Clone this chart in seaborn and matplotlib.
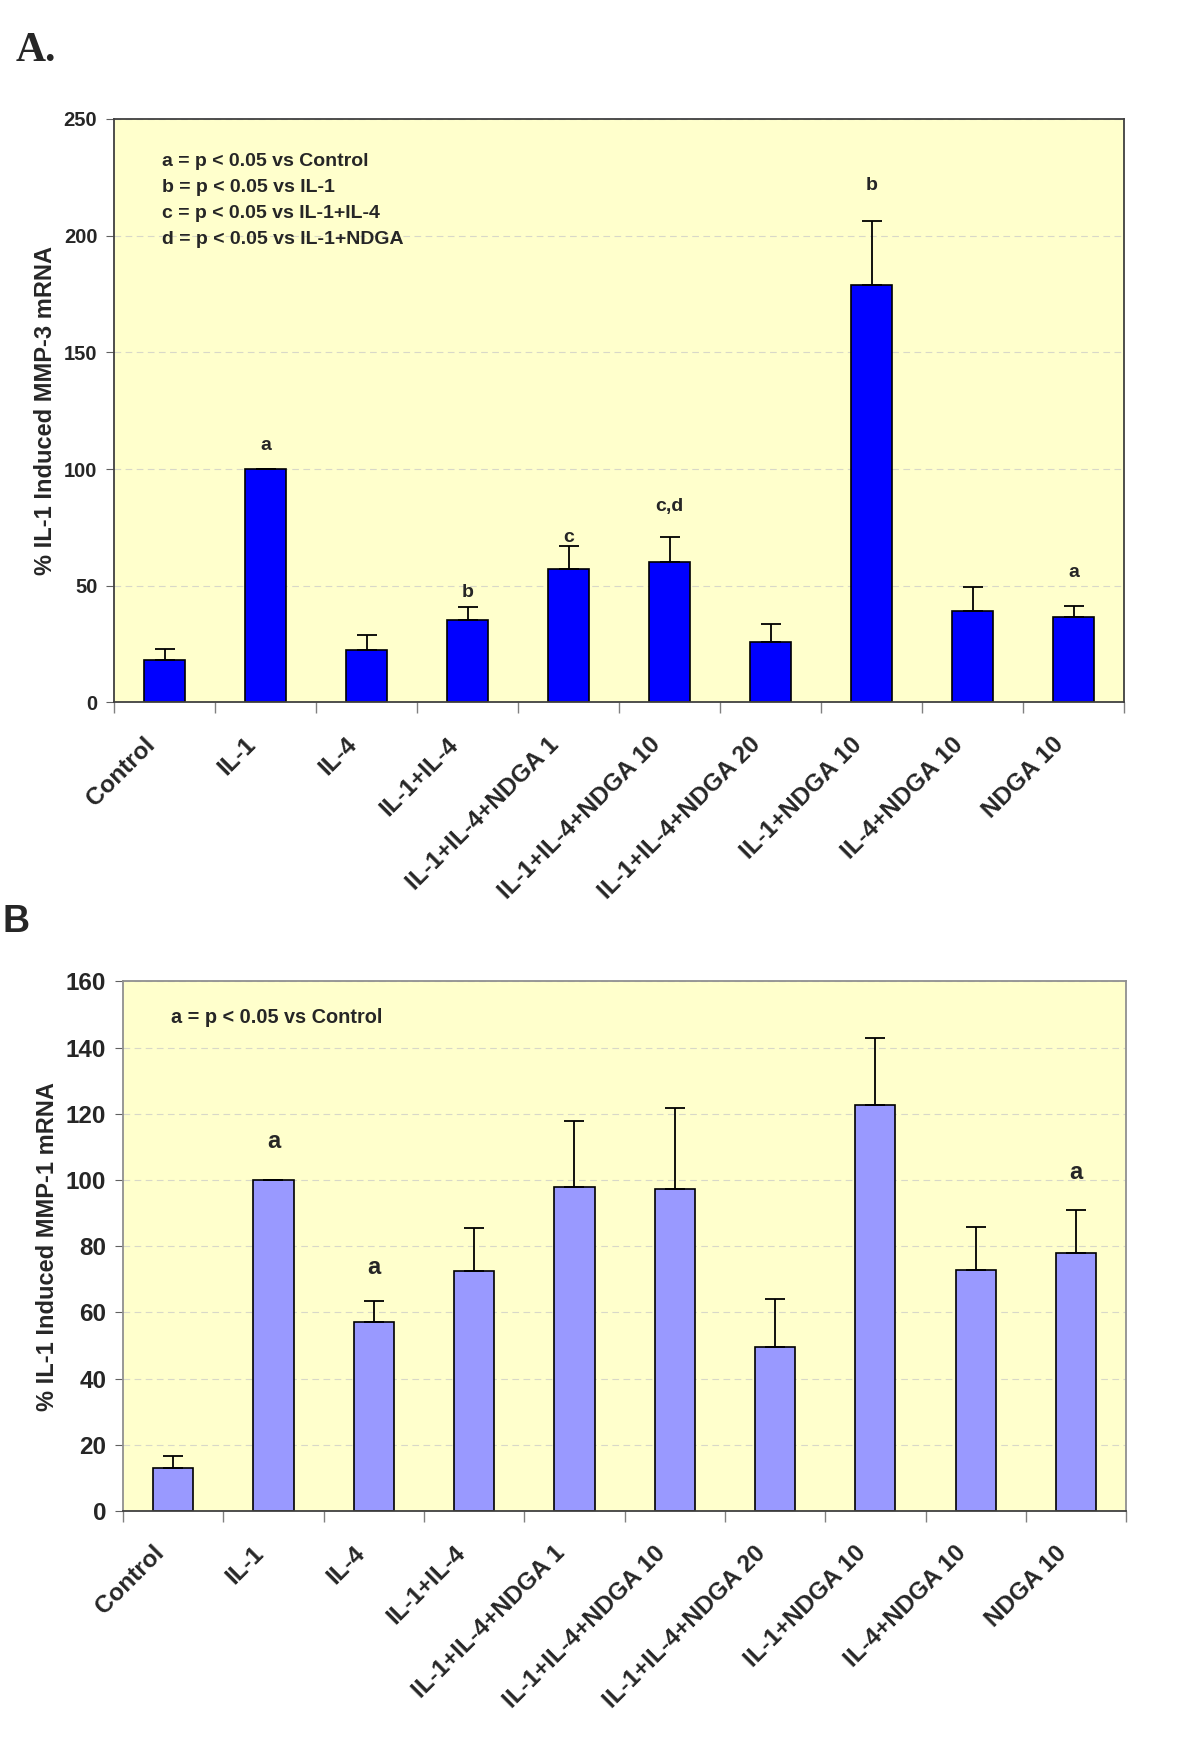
import numpy as np
import pandas as pd
import matplotlib
matplotlib.use("Agg")
import matplotlib.pyplot as plt
import seaborn as sns

categories = ["Control", "IL-1", "IL-4", "IL-1+IL-4", "IL-1+IL-4+NDGA 1",
              "IL-1+IL-4+NDGA 10", "IL-1+IL-4+NDGA 20", "IL-1+NDGA 10",
              "IL-4+NDGA 10", "NDGA 10"]

# panel A : MMP-3
mmp3_mean = [18.1, 100.0, 22.4, 35.2, 57.3, 60.0, 25.9, 178.7, 39.2, 36.8]
mmp3_sem = [4.8, 0.0, 6.3, 5.7, 9.6, 10.8, 7.5, 27.6, 10.2, 4.6]
mmp3_marks = ["", "a", "", "b", "c", "c,d", "", "b", "", "a"]
mmp3_mark_y = [0, 110, 0, 47, 70.5, 84, 0, 221.5, 0, 55.6]
mmp3_notes = ["a = p < 0.05 vs Control", "b = p < 0.05 vs IL-1",
              "c = p < 0.05 vs IL-1+IL-4", "d = p < 0.05 vs IL-1+NDGA"]

# panel B : MMP-1
mmp1_mean = [12.9, 100.0, 57.1, 72.6, 98.0, 97.2, 49.7, 122.6, 72.8, 78.1]
mmp1_sem = [3.8, 0.0, 6.4, 12.8, 19.9, 24.5, 14.4, 20.3, 13.1, 13.0]
mmp1_marks = ["", "a", "a", "", "", "", "", "", "", "a"]
mmp1_mark_y = [0, 111.6, 73.6, 0, 0, 0, 0, 0, 0, 102.4]
mmp1_notes = ["a = p < 0.05 vs Control"]

sns.set_style("ticks")
plt.rcParams['font.family'] = ['Liberation Sans', 'DejaVu Sans']
plt.rcParams['font.weight'] = 'bold'


def draw_panel(ax, mean, sem, marks, mark_y, notes, color, ymax, ystep,
               ylabel, spine_col, tick_fs, cat_fs, mark_fs, note_fs, note_y):
    df = pd.DataFrame({"cat": categories, "val": mean})
    sns.barplot(data=df, x="cat", y="val", color=color, saturation=1,
                edgecolor="black", linewidth=1.2, width=0.4, errorbar=None, ax=ax)
    x = np.arange(len(categories))
    ax.errorbar(x, mean, yerr=[np.zeros(len(sem)), sem], fmt="none",
                ecolor="black", elinewidth=1.3, capsize=7, capthick=1.3)
    for xi, m, my in zip(x, marks, mark_y):
        if m:
            ax.text(xi, my, m, ha="center", va="center", fontsize=mark_fs,
                    fontweight="bold")
    for i, n in enumerate(notes):
        ax.text(0.048, note_y - i * 0.0445, n, transform=ax.transAxes,
                ha="left", va="center", fontsize=note_fs, fontweight="bold")

    ax.set_facecolor("#FFFFCC")
    ax.set_xlim(-0.5, len(categories) - 0.5)
    ax.set_ylim(0, ymax)
    ax.set_yticks(np.arange(0, ymax + 1, ystep))
    ax.yaxis.grid(True, linestyle=(0, (6, 4)), color="#d8d8c8", linewidth=0.8)
    ax.set_axisbelow(True)
    for s in ax.spines.values():
        s.set_visible(True)
        s.set_color(spine_col)
        s.set_linewidth(1.3)
    ax.spines["bottom"].set_color("#404040")

    # slanted labels sit a little left of the bar centre in the original
    ax.set_xticks(x - 0.21)
    ax.set_xticklabels(categories, rotation=45, ha="right",
                       rotation_mode="anchor", fontsize=cat_fs, fontweight="bold")
    ax.set_xticks(np.arange(-0.5, len(categories), 1), minor=True)
    ax.tick_params(axis="x", which="major", length=0, pad=22)
    ax.tick_params(axis="x", which="minor", length=8, color="#808080", width=1)
    ax.tick_params(axis="y", length=6, color="#606060", labelsize=tick_fs, pad=6)
    for t in ax.get_yticklabels():
        t.set_fontweight("bold")
    ax.set_xlabel("")
    ax.set_ylabel(ylabel, fontsize=17, fontweight="bold", labelpad=5)


fig = plt.figure(figsize=(12, 17.57), dpi=100)
ax_a = fig.add_axes([0.095, 0.6002, 0.8417, 0.3321])
ax_b = fig.add_axes([0.1025, 0.140, 0.836, 0.3014])

draw_panel(ax_a, mmp3_mean, mmp3_sem, mmp3_marks, mmp3_mark_y, mmp3_notes,
           "#0000FF", 250, 50, "% IL-1 Induced MMP-3 mRNA", "#404040",
           14.5, 17.5, 14, 14, 0.927)
draw_panel(ax_b, mmp1_mean, mmp1_sem, mmp1_marks, mmp1_mark_y, mmp1_notes,
           "#9999FF", 160, 20, "% IL-1 Induced MMP-1 mRNA", "#909090",
           17.5, 17.5, 17, 14.3, 0.932)

fig.text(0.013, 0.971, "A.", fontsize=30, fontweight="bold",
         family=["Liberation Serif", "DejaVu Serif"], ha="left", va="center")
fig.text(0.002, 0.475, "B", fontsize=27, fontweight="bold", ha="left", va="center")

fig.savefig("out.png", dpi=100, facecolor="white")
